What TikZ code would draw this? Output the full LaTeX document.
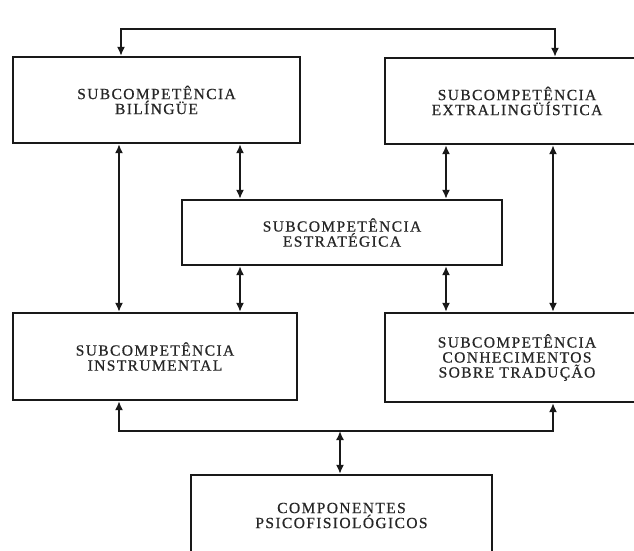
\documentclass[tikz,border=0pt]{standalone}
\usepackage{fontspec}
\setmainfont{Liberation Serif}
\newfontfamily\labfont{Liberation Serif}[LetterSpace=9,FakeBold=0.6]
\usetikzlibrary{arrows.meta}
\begin{document}
\begin{tikzpicture}[x=1pt,y=-1pt,
  box/.style={draw=black!90, line width=2.4pt, fill=white, inner sep=0pt,
    align=center, text=black!85, font=\labfont\fontsize{15.5}{15}\selectfont},
  link/.style={line width=1.6pt, draw=black!90,
    {Latex[length=9pt,width=8pt]}-{Latex[length=9pt,width=8pt]}}]
\useasboundingbox (0,0) rectangle (634,550);
\clip (0,0) rectangle (634,550);
\fill[white] (0,0) rectangle (634,550);
% boxes
\node[box, minimum width=287pt, minimum height=86pt] (bl) at (156.5,100) {SUBCOMPETÊNCIA\\BILÍNGÜE};
\node[box, minimum width=264pt, minimum height=86pt] (ext) at (517,101) {SUBCOMPETÊNCIA\\EXTRALINGÜÍSTICA};
\node[box, minimum width=320pt, minimum height=65pt] (est) at (342,232.5) {SUBCOMPETÊNCIA\\ESTRATÉGICA};
\node[box, minimum width=284pt, minimum height=87pt] (ins) at (155,356.5) {SUBCOMPETÊNCIA\\INSTRUMENTAL};
\node[box, minimum width=264pt, minimum height=89pt] (con) at (517,357.5) {SUBCOMPETÊNCIA\\CONHECIMENTOS\\SOBRE TRADUÇÃO};
\node[box, minimum width=301pt, minimum height=81pt] (comp) at (341.5,515.5) {COMPONENTES\\PSICOFISIOLÓGICOS};
% routing coordinates
\coordinate (tl) at (121,29);
\coordinate (tr) at (555,29);
\coordinate (bl2) at (119,431);
\coordinate (br2) at (553,431);
\coordinate (xl) at (119,0);
\coordinate (xr) at (553,0);
\coordinate (xa) at (240,0);
\coordinate (xb) at (446,0);
\coordinate (xm) at (340,0);
% connectors
\draw[link] (bl.north -| tl) -- (tl) -- (tr) -- (ext.north -| tr);
\draw[link] (bl.south -| xl) -- (ins.north -| xl);
\draw[link] (ext.south -| xr) -- (con.north -| xr);
\draw[link] (bl.south -| xa) -- (est.north -| xa);
\draw[link] (ext.south -| xb) -- (est.north -| xb);
\draw[link] (est.south -| xa) -- (ins.north -| xa);
\draw[link] (est.south -| xb) -- (con.north -| xb);
\draw[link] (ins.south -| bl2) -- (bl2) -- (br2) -- (con.south -| br2);
\draw[link] (comp.north -| xm) -- (bl2 -| xm);
\end{tikzpicture}
\end{document}
